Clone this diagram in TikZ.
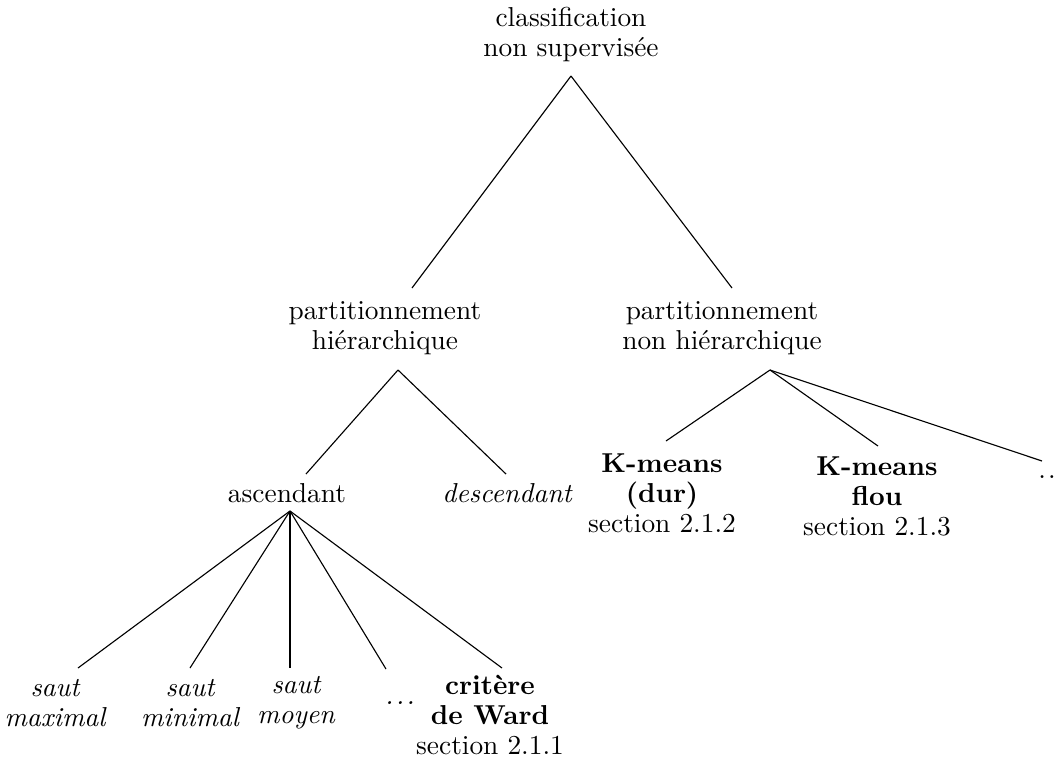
\documentclass[tikz,border=0pt]{standalone}
\usetikzlibrary{calc}
\newcommand{\mydots}{.\kern0.9pt.\kern0.9pt.}
\begin{document}
\begin{tikzpicture}[x=0.4pt,y=-0.4pt,
  lbl/.style={inner sep=0pt, align=center, font=\fontsize{10.95}{12}\selectfont},
  itl/.style={lbl, font=\fontsize{10.95}{12}\selectfont\itshape},
  link/.style={draw=black, line width=0.45pt}]
\useasboundingbox (0,0) rectangle (1055,762);
% nodes
\node[lbl] (root) at (571,34) {classification\\non supervisée};
\node[lbl] (ph)   at (385,328) {partitionnement\\hiérarchique};
\node[lbl] (pnh)  at (722,328) {partitionnement\\non hiérarchique};
\node[lbl] (asc)  at (287,493) {ascendant};
\node[itl] (desc) at (507,493) {descendant};
\node[lbl] (km)   at (662,493) {\textbf{K-means}\\\textbf{(dur)}\\section 2.1.2};
\node[lbl] (kmf)  at (877,496) {\textbf{K-means}\\\textbf{flou}\\section 2.1.3};
\node[lbl] (rdots) at (1052,477) {\mydots};
\node[itl] (smax) at (55,703) {saut\\maximal};
\node[itl] (smin) at (190,703) {saut\\minimal};
\node[itl] (smoy) at (296,703) {saut\\moyen};
\node[itl] (bdots) at (400,703) {\mydots};
\node[lbl] (ward) at (490,715) {\textbf{critère}\\\textbf{de Ward}\\section 2.1.1};
% connectors
\draw[link] ($(root)+(0,42)$) -- ($(ph)+(27,-40)$);
\draw[link] ($(root)+(0,42)$) -- ($(pnh)+(10,-40)$);
\draw[link] ($(ph)+(13,42)$) -- ($(asc)+(19,-19)$);
\draw[link] ($(ph)+(13,42)$) -- ($(desc)+(-1,-19)$);
\draw[link] ($(pnh)+(48,42)$) -- ($(km)+(4,-52)$);
\draw[link] ($(pnh)+(48,42)$) -- ($(kmf)+(1,-50)$);
\draw[link] ($(pnh)+(48,42)$) -- ($(rdots)+(-10,-16)$);
\draw[link] ($(asc)+(3,18)$) -- ($(smax)+(23,-35)$);
\draw[link] ($(asc)+(3,18)$) -- ($(smin)+(0,-35)$);
\draw[link] ($(asc)+(3,18)$) -- ($(smoy)+(-6,-35)$);
\draw[link] ($(asc)+(3,18)$) -- ($(bdots)+(-14,-34)$);
\draw[link] ($(asc)+(3,18)$) -- ($(ward)+(12,-47)$);
\end{tikzpicture}
\end{document}
